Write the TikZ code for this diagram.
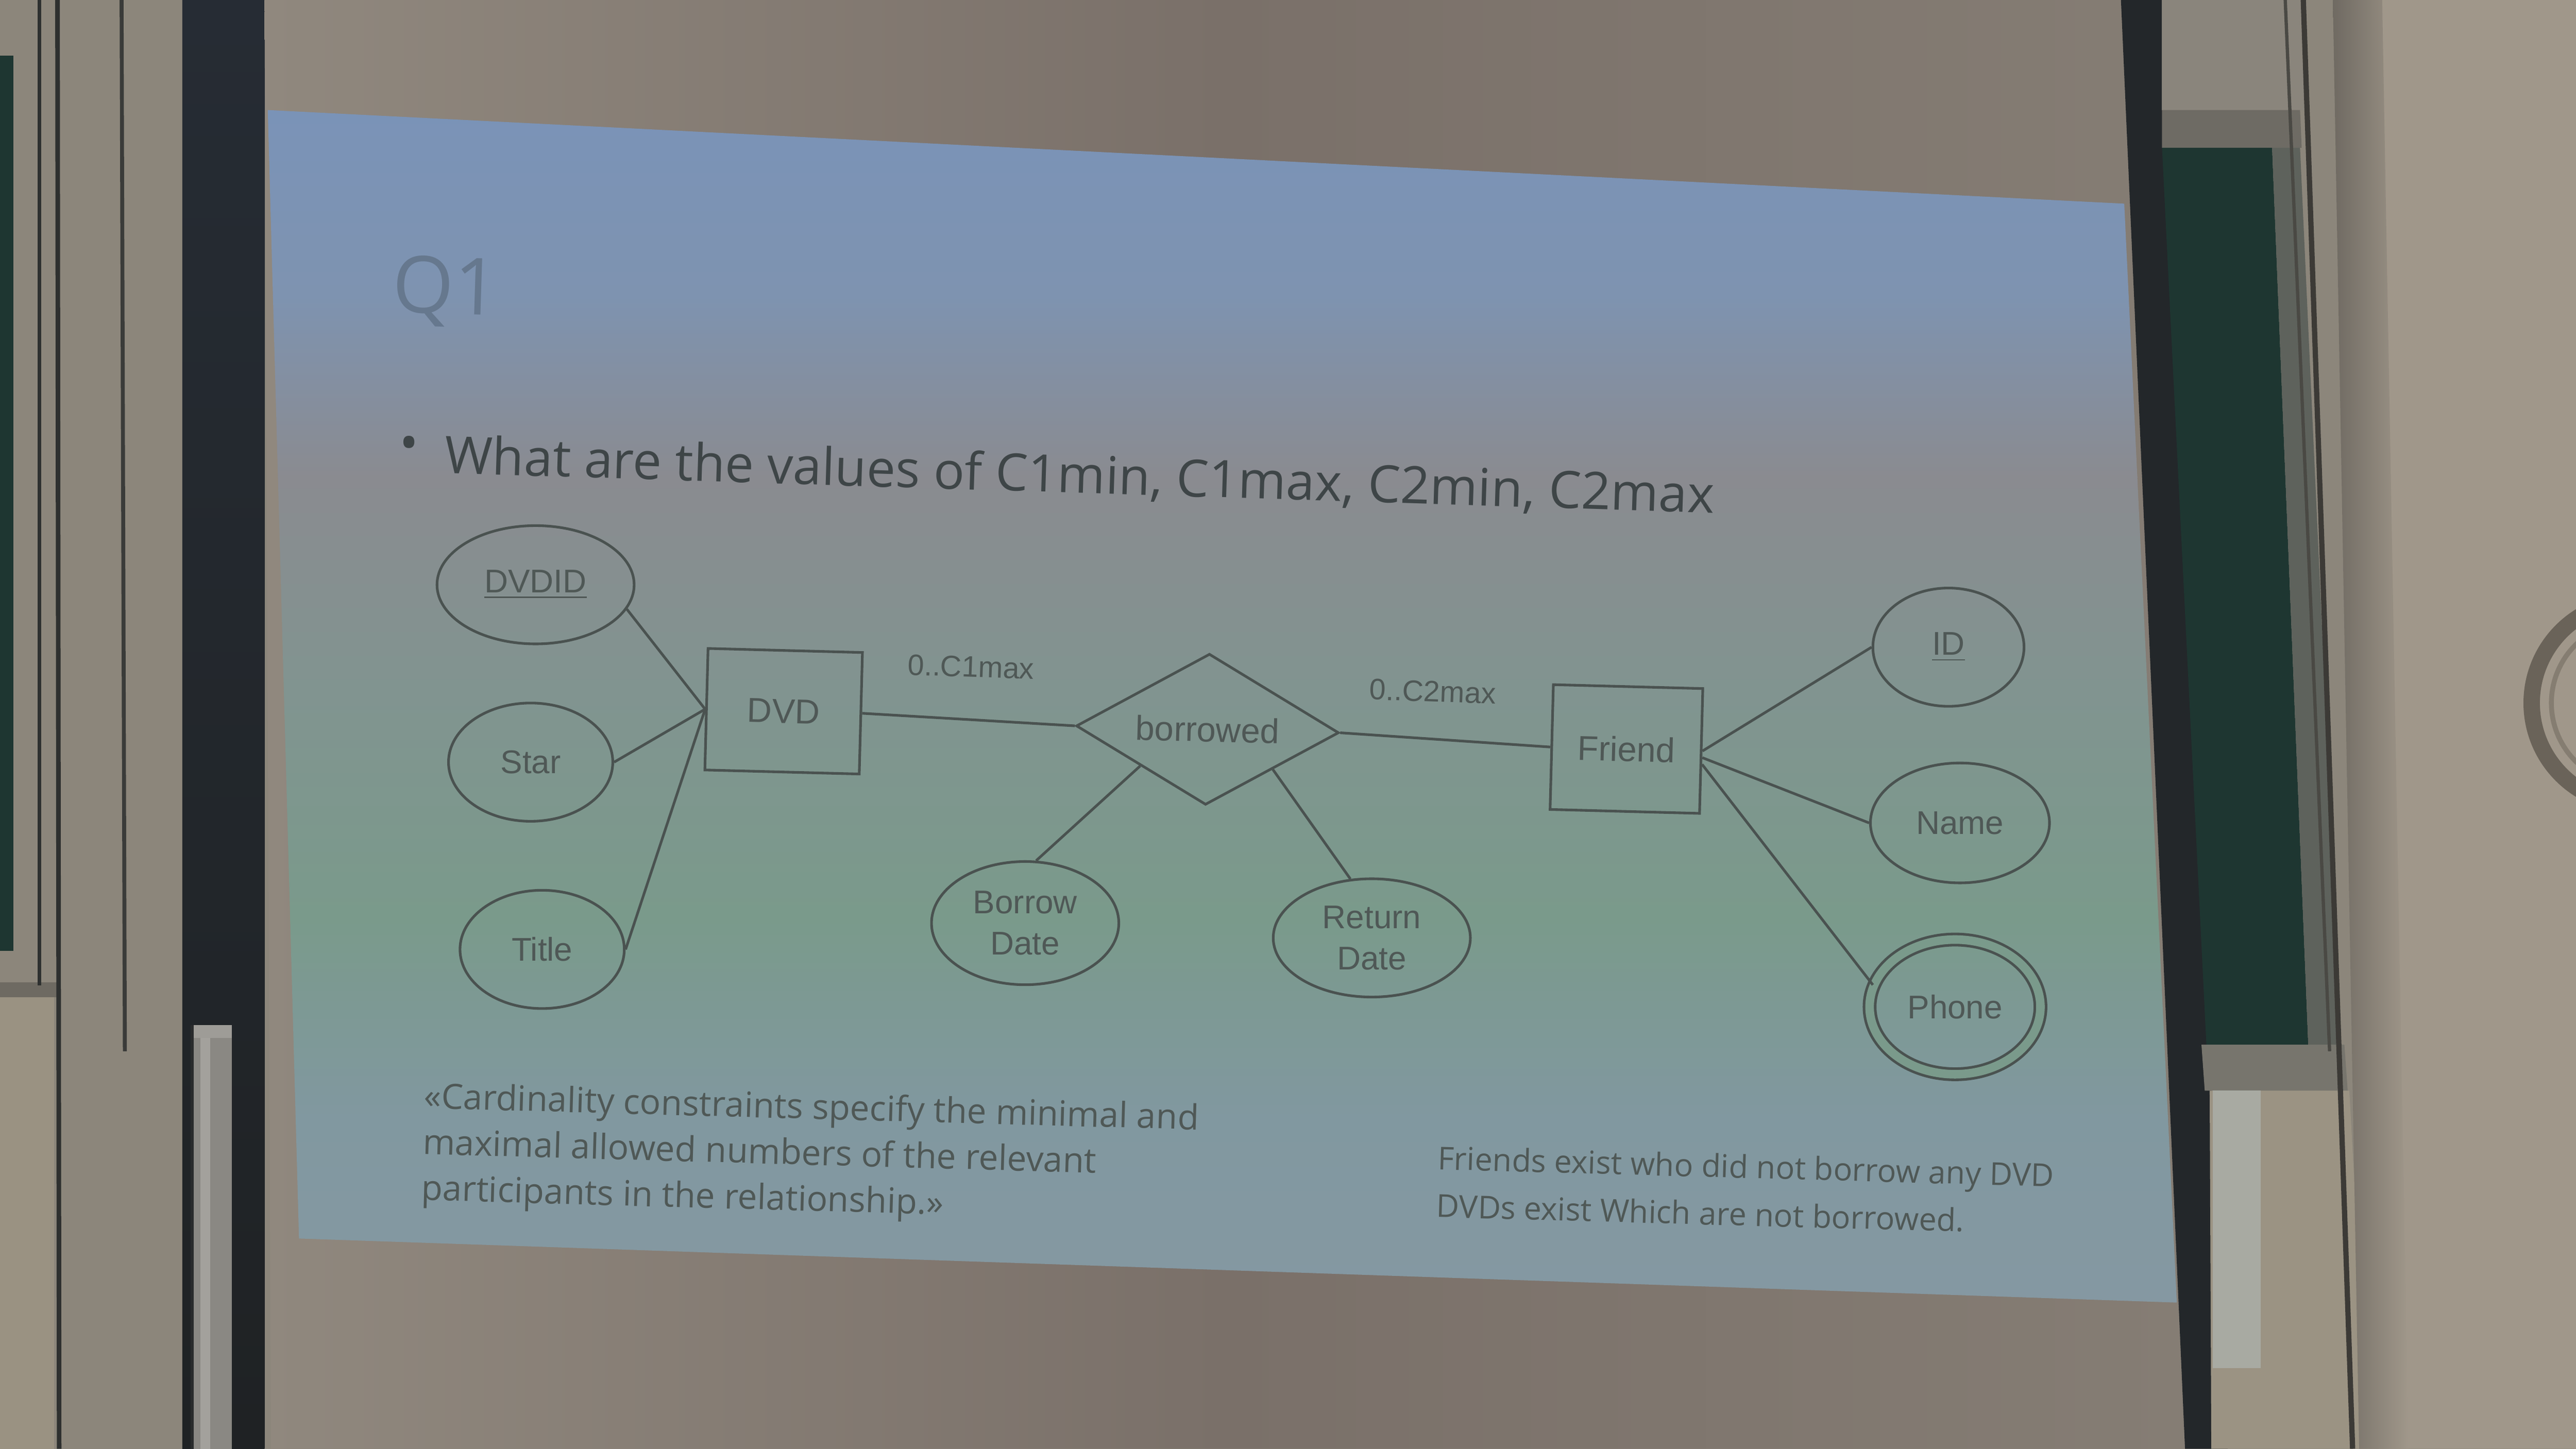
\documentclass[tikz,border=0pt]{standalone}
\usepackage{fontspec}
\setmainfont{Liberation Sans}
\newfontfamily\slidefont{Open Sans}
\usetikzlibrary{shapes.geometric}
\definecolor{wallc}{HTML}{8C867B}
\definecolor{wallr}{HTML}{A0978A}
\definecolor{boardc}{HTML}{1E3631}
\definecolor{scrL}{HTML}{90887E}
\definecolor{scrM}{HTML}{7A7069}
\definecolor{scrR}{HTML}{857D74}
\definecolor{ledgeL}{HTML}{6E6A62}
\definecolor{panelL}{HTML}{9A9282}
\definecolor{lineA}{HTML}{2E302F}
\definecolor{lineB}{HTML}{3A3B39}
\definecolor{colTop}{HTML}{262C34}
\definecolor{colBot}{HTML}{1F2224}
\definecolor{pipeA}{HTML}{8A8883}
\definecolor{pipeB}{HTML}{9E9C97}
\definecolor{pipeC}{HTML}{A3A19C}
\definecolor{pipeD}{HTML}{2A2C2D}
\definecolor{frameR}{HTML}{23272A}
\definecolor{topR}{HTML}{8A857C}
\definecolor{ledgeR}{HTML}{6E6B64}
\definecolor{bframe}{HTML}{5E625C}
\definecolor{ledgeB}{HTML}{77756D}
\definecolor{panelR}{HTML}{9B9383}
\definecolor{panelW}{HTML}{A8AAA2}
\definecolor{shadowR}{HTML}{6F6A62}
\definecolor{lineR}{HTML}{3C3A36}
\definecolor{lineR2}{HTML}{4A4944}
\definecolor{clockA}{HTML}{6A6359}
\definecolor{clockB}{HTML}{857D71}
\definecolor{slA}{HTML}{7A93B8}
\definecolor{slB}{HTML}{7E93B0}
\definecolor{slC}{HTML}{8A8B90}
\definecolor{slD}{HTML}{819490}
\definecolor{slE}{HTML}{7A9A8B}
\definecolor{slF}{HTML}{8198A0}
\definecolor{slG}{HTML}{8598A2}
\definecolor{linec}{HTML}{4A5250}
\definecolor{dtext}{HTML}{4F5856}
\definecolor{qtext}{HTML}{3E4547}
\definecolor{titlec}{HTML}{66788E}
\begin{document}
\begin{tikzpicture}[x=0.5pt,y=-0.5pt,
  attr/.style={ellipse, draw=linec, line width=0.8pt, inner sep=0pt, text=dtext,
    font=\fontsize{10}{12.5}\selectfont, align=center},
  ent/.style={rectangle, draw=linec, line width=0.8pt, inner sep=0pt, text=dtext,
    font=\fontsize{10.5}{12}\selectfont, rotate=-1.5},
  relship/.style={diamond, aspect=1.74, draw=linec, line width=0.8pt, inner sep=0pt,
    text=dtext, font=\fontsize{10.5}{12}\selectfont, minimum width=80pt, minimum height=46pt, rotate=-1.5},
  card/.style={font=\fontsize{9}{10}\selectfont, text=dtext, rotate=-2, inner sep=0pt},
  conn/.style={draw=linec, line width=0.8pt},
  note/.style={text=dtext, anchor=north west, inner sep=0pt, rotate=-1.6, align=left},
]
\useasboundingbox (0,0) rectangle (1568,882);
% ---------- room ----------
\fill[wallc] (0,0) rectangle (1568,882);
\fill[boardc] (0,34) rectangle (8,579);
\fill[ledgeL] (0,598) rectangle (35,607);
\fill[panelL] (0,607) rectangle (33,882);
\draw[lineA, line width=1.2pt] (24,0) -- (24,600);
\draw[lineA, line width=1.4pt] (35,0) -- (36,882);
\draw[lineB, line width=1.2pt] (74,0) -- (76,640);
\shade[top color=colTop, bottom color=colBot] (111,0) rectangle (161,882);
\fill[pipeA] (117,630) rectangle (141,882);
\fill[pipeB] (117,624) rectangle (141,632);
\fill[pipeC] (122,632) rectangle (128,882);
\draw[pipeD, line width=1pt] (117,624) -- (117,882);
\shade[left color=scrL, right color=scrR, middle color=scrM] (161,0) -- (1291,0) -- (1330,882) -- (165,882) -- cycle;
% right frame and board
\fill[frameR] (1291,0) -- (1316,0) -- (1356,882) -- (1330,882) -- cycle;
\fill[topR] (1316,0) rectangle (1404,67);
\fill[ledgeR] (1316,67) -- (1400,67) -- (1401,90) -- (1316,90) -- cycle;
\fill[boardc] (1316,90) -- (1383,90) -- (1405,636) -- (1343,636) -- cycle;
\fill[bframe] (1383,90) -- (1400,90) -- (1425,636) -- (1405,636) -- cycle;
\fill[ledgeB] (1340,636) -- (1427,636) -- (1429,664) -- (1342,664) -- cycle;
\fill[panelR] (1345,664) -- (1430,664) -- (1442,882) -- (1346,882) -- cycle;
\fill[panelW] (1347,664) rectangle (1376,833);
\fill[wallr] (1432,0) -- (1568,0) -- (1568,882) -- (1448,882) -- cycle;
\shade[left color=shadowR, right color=wallr] (1420,0) -- (1450,0) -- (1466,882) -- (1436,882) -- cycle;
\draw[lineR, line width=1.6pt] (1402,0) -- (1432,882);
\draw[lineR2, line width=1pt] (1391,0) -- (1418,640);
\draw[clockA, line width=5pt] (1603,428) circle (62);
\draw[clockB, line width=1.5pt] (1603,428) circle (50);
% ---------- slide ----------
\begin{scope}
\clip (163,67) -- (1293,124) -- (1325,793) -- (182,754) -- cycle;
\shade[top color=slA, bottom color=slB] (150,60) rectangle (1340,181);
\shade[top color=slB, bottom color=slC] (150,180) rectangle (1340,291);
\shade[top color=slC, bottom color=slD] (150,290) rectangle (1340,421);
\shade[top color=slD, bottom color=slE] (150,420) rectangle (1340,561);
\shade[top color=slE, bottom color=slF] (150,560) rectangle (1340,681);
\shade[top color=slF, bottom color=slG] (150,680) rectangle (1340,800);
\end{scope}
% title and question
\node[anchor=base west, inner sep=0pt, text=titlec, font=\slidefont\fontsize{24}{28}\selectfont, rotate=-1.8] (q1) at (238,190) {Q1};
\node[anchor=center, inner sep=0pt, text=qtext, font=\slidefont\fontsize{15.5}{17}\selectfont] (bul) at (249,273) {•};
\node[anchor=base west, inner sep=0pt, text=qtext, font=\slidefont\fontsize{15.7}{18}\selectfont, rotate=-1.8] (q) at (270,288) {What are the values of C1min, C1max, C2min, C2max};
% ---------- ER diagram ----------
\node[attr, minimum width=60pt, minimum height=36pt] (dvdid) at (326,356) {\underline{DVDID}};
\node[attr, minimum width=50pt, minimum height=36pt] (star) at (323,464) {Star};
\node[attr, minimum width=50pt, minimum height=36pt] (title) at (330,578) {Title};
\node[ent, minimum width=47pt, minimum height=37pt] (dvd) at (477,433) {DVD};
\node[relship] (rel) at (735,444) {borrowed};
\node[ent, minimum width=45.5pt, minimum height=38pt] (friend) at (990,456) {Friend};
\node[attr, minimum width=46pt, minimum height=36pt] (id) at (1186,394) {\underline{ID}};
\node[attr, minimum width=54.5pt, minimum height=36.5pt] (name) at (1193,501) {Name};
\node[attr, double=slE, double distance=2.6pt, minimum width=52pt, minimum height=41pt] (phone) at (1190,613) {Phone};
\node[attr, minimum width=57pt, minimum height=37.5pt] (bdate) at (624,562) {Borrow\\Date};
\node[attr, minimum width=60pt, minimum height=36pt] (rdate) at (835,571) {Return\\Date};
\node[card] (c1) at (591,406) {0..C1max};
\node[card] (c2) at (872,421) {0..C2max};
\draw[conn] (dvdid.-15) -- (dvd.west);
\draw[conn] (star.east) -- (dvd.west);
\draw[conn] (title.east) -- (dvd.west);
\draw[conn] (dvd.east) -- (rel.west);
\draw[conn] (rel.east) -- (friend.west);
\draw[conn] (friend.east) -- (id.west);
\draw[conn] (friend.-5) -- (name.west);
\draw[conn] (friend.-10) -- (phone.165);
\draw[conn] (rel.south west) -- (bdate.80);
\draw[conn] (rel.south east) -- (rdate.110);
% ---------- notes ----------
\node[note, font=\slidefont\fontsize{10.6}{14}\selectfont] (n1) at (258,658)
  {«Cardinality constraints specify the minimal and\\maximal allowed numbers of the relevant\\participants in the relationship.»};
\node[note, font=\slidefont\fontsize{9.6}{14.5}\selectfont] (n2) at (875,697)
  {Friends exist who did not borrow any DVD\\DVDs exist Which are not borrowed.};
\end{tikzpicture}
\end{document}
